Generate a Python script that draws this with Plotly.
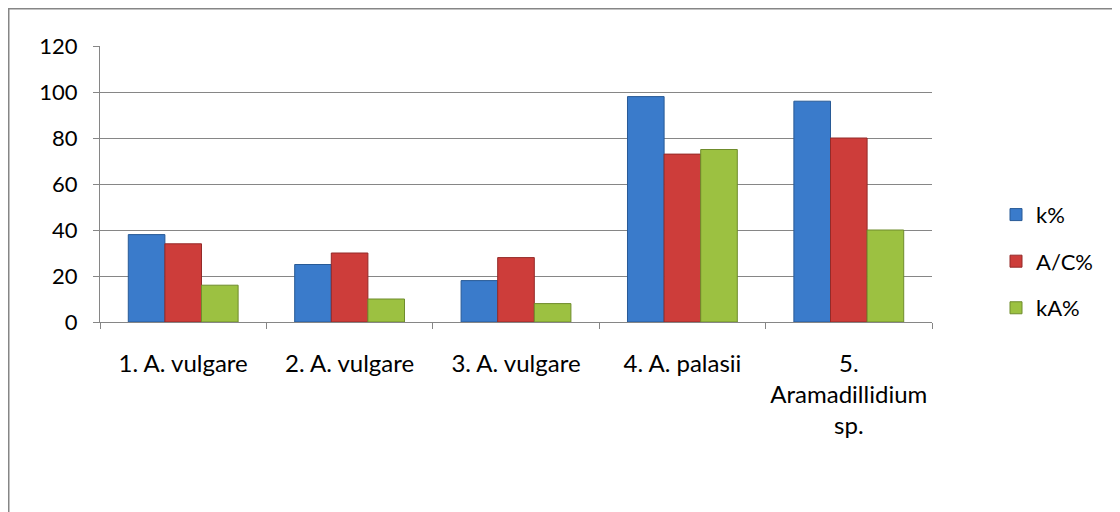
import plotly.graph_objects as go

categories = ["1. A. vulgare", "2. A. vulgare", "3. A. vulgare", "4. A. palasii", "5.<br>Aramadillidium<br>sp."]
k_pct = [38, 25, 18, 98, 96]
ac_pct = [34, 30, 28, 73, 80]
ka_pct = [16, 10, 8, 75, 40]
y_ticks = [0, 20, 40, 60, 80, 100, 120]

series = [
    ("k%", k_pct, "#3a7bcb", "#285a96"),
    ("A/C%", ac_pct, "#cd3d3a", "#942a28"),
    ("kA%", ka_pct, "#9cc141", "#6f8c2c"),
]

FONT = "Lato"
# page offset of 8px (body margin) -> plot area page x 100..932, y 46..322
L, T = 92, 38
PW, PH = 832, 276
fig = go.Figure()
for i, (name, vals, col, edge) in enumerate(series):
    fig.add_trace(go.Bar(
        x=categories, y=vals, name=name, legendgroup=str(i),
        marker=dict(color=col, line=dict(color=edge, width=1)),
    ))

fig.update_layout(
    width=1120, height=512,
    margin=dict(l=L, r=1120 - L - PW, t=T, b=512 - T - PH),
    paper_bgcolor="white", plot_bgcolor="white",
    barmode="group", bargap=0.34, bargroupgap=0,
    font=dict(family=FONT, size=22, color="#000000"),
    showlegend=True,
    legend=dict(x=(996 - 100) / PW, y=0.22, xanchor="left", yanchor="middle",
                traceorder="grouped", tracegroupgap=15,
                font=dict(family=FONT, size=22), itemwidth=30),
    xaxis=dict(showline=True, linecolor="#868686", linewidth=1,
               ticks="outside", tickson="boundaries", ticklen=6, tickcolor="#868686",
               showgrid=False, tickfont=dict(size=24), ticklabelstandoff=20),
    yaxis=dict(range=[0, 120], tickvals=y_ticks, showline=True, linecolor="#868686",
               linewidth=1, ticks="outside", ticklen=6, tickcolor="#868686",
               showgrid=True, gridcolor="#868686", gridwidth=1, zeroline=False,
               ticklabelstandoff=11, tickfont=dict(size=22)),
    shapes=[dict(type="rect", xref="paper", yref="paper",
                 x0=-(L - 0.5) / PW, x1=(1110 - L) / PW,
                 y0=-(512 - T - PH + 10) / PH, y1=1 + (T - 0.5) / PH,
                 line=dict(color="#868686", width=2), fillcolor="rgba(0,0,0,0)")],
)

fig.write_html("out.html")
